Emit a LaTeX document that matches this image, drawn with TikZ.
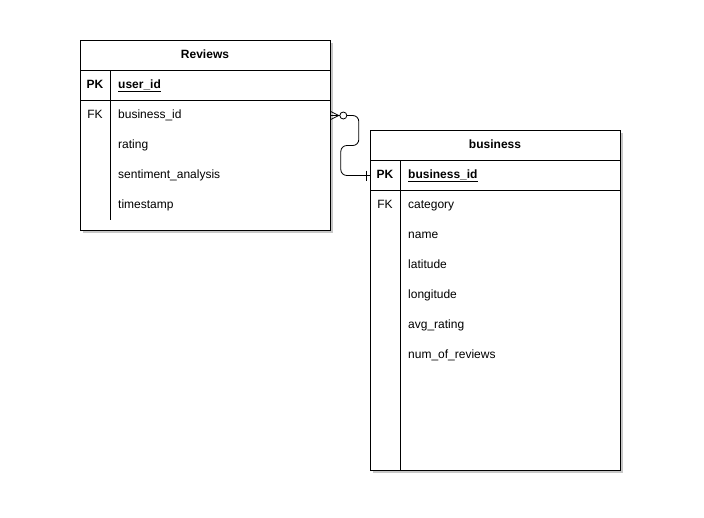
\documentclass[tikz,border=0pt]{standalone}
\usepackage{fontspec}
\setmainfont{Liberation Sans}
\usetikzlibrary{shadows,calc}
\begin{document}
\begin{tikzpicture}[x=1pt,y=-1pt,
  tbl/.style={draw=black, line width=0.8pt, fill=white, anchor=north west, inner sep=0pt,
     drop shadow={shadow xshift=2.5pt, shadow yshift=-2.5pt, opacity=0.22, fill=black}},
  sep/.style={draw=black, line width=0.8pt},
  txt/.style={text height=8.5pt, text depth=2.5pt},
  hdr/.style={txt, font=\fontsize{12}{14}\selectfont\bfseries, anchor=center},
  key/.style={txt, font=\fontsize{12}{14}\selectfont, anchor=center},
  pkey/.style={txt, font=\fontsize{12}{14}\selectfont\bfseries, anchor=center},
  fld/.style={txt, font=\fontsize{12}{14}\selectfont, anchor=west, inner sep=0pt},
  pfld/.style={txt, font=\fontsize{12}{14}\selectfont\bfseries, anchor=west, inner sep=0pt},
  rel/.style={draw=black, line width=0.8pt, rounded corners=6pt}]
\useasboundingbox (0,0) rectangle (704,517);
% Reviews table
\node[tbl, minimum width=250pt, minimum height=190pt] (R) at (80,40) {};
\draw[sep] (80,70) -- (330,70);
\draw[sep] (80,100) -- (330,100);
\draw[sep] (110,70) -- (110,220);
\node[hdr] (rt) at (205,55.5) {Reviews};
\node[pkey] (rpk) at (95,85.5) {PK};
\node[pfld] (ruid) at (118,85.5) {\underline{user\_id}};
\node[key] (rfk) at (95,115.5) {FK};
\node[fld] (rbid) at (118,115.5) {business\_id};
\node[fld] (rrat) at (118,145.5) {rating};
\node[fld] (rsen) at (118,175.5) {sentiment\_analysis};
\node[fld] (rts) at (118,205.5) {timestamp};
% business table
\node[tbl, minimum width=250pt, minimum height=340pt] (B) at (370,130) {};
\draw[sep] (370,160) -- (620,160);
\draw[sep] (370,190) -- (620,190);
\draw[sep] (400,160) -- (400,470);
\node[hdr] (bt) at (495,145.5) {business};
\node[pkey] (bpk) at (385,175.5) {PK};
\node[pfld] (bbid) at (408,175.5) {\underline{business\_id}};
\node[key] (bfk) at (385,205.5) {FK};
\node[fld] (bcat) at (408,205.5) {category};
\node[fld] (bname) at (408,235.5) {name};
\node[fld] (blat) at (408,265.5) {latitude};
\node[fld] (blon) at (408,295.5) {longitude};
\node[fld] (bavg) at (408,325.5) {avg\_rating};
\node[fld] (bnum) at (408,355.5) {num\_of\_reviews};
% relationship
\coordinate (rE) at (R.east |- rbid);
\coordinate (bW) at (B.west |- bbid);
\draw[rel] (rE) -- ++(28,0) -- ++(0,30) -- ++(-18,0) -- ++(0,30) -- (bW);
\draw[line width=0.8pt] ($(rE)+(0,-4)$) -- ($(rE)+(8,0)$) -- ($(rE)+(0,4)$);
\draw[line width=0.8pt, fill=white] ($(rE)+(12.5,0)$) circle (3.5pt);
\draw[line width=0.8pt] ($(bW)+(-4,-5)$) -- ($(bW)+(-4,5)$);
\end{tikzpicture}
\end{document}
